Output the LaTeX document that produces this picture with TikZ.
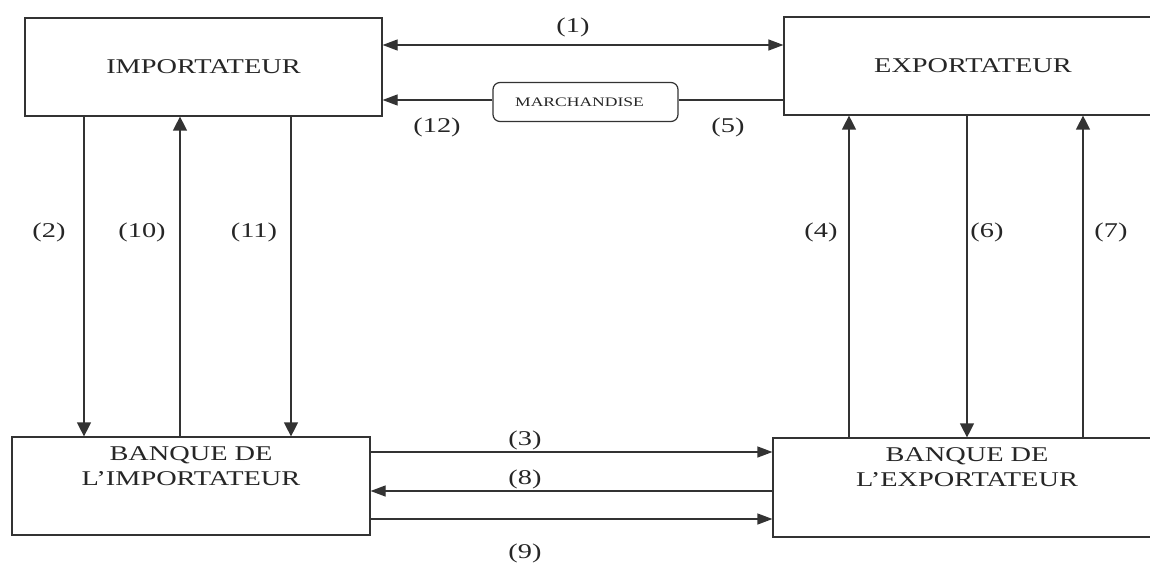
\documentclass[tikz,border=0pt]{standalone}
\usepackage{fontspec}
\setmainfont{Liberation Serif}
\usepackage{graphicx}
\usetikzlibrary{arrows.meta}
\newcommand{\sx}[1]{\scalebox{1.35}[1]{#1}}
\begin{document}
\begin{tikzpicture}[x=1pt,y=-1pt,
  box/.style={draw=black!80, line width=1.2pt, rectangle, inner sep=0pt,
              font=\fontsize{21}{25}\selectfont, text=black!85},
  lab/.style={font=\fontsize{21}{25}\selectfont, text=black!85, inner sep=0pt},
  ln/.style={draw=black!80, line width=1.2pt},
  harr/.style={ln, -{Triangle[length=15pt,width=11pt]}},
  harrb/.style={ln, {Triangle[length=15pt,width=11pt]}-{Triangle[length=15pt,width=11pt]}},
  varr/.style={ln, -{Triangle[length=14pt,width=14pt]}},
]
\useasboundingbox (0,0) rectangle (1150,564);
\clip (0,0) rectangle (1150,564);
\fill[white] (0,0) rectangle (1150,564);

% boxes
\node[box, minimum width=357pt, minimum height=98pt] (imp) at (203.5,67) {\sx{IMPORTATEUR}};
\node[box, minimum width=378pt, minimum height=98pt] (exp) at (973,66) {\sx{EXPORTATEUR}};
\node[box, minimum width=358pt, minimum height=98pt,
      label={[lab, anchor=north, inner sep=6pt]north:\sx{\begin{tabular}{@{}c@{}}BANQUE DE\\L'IMPORTATEUR\end{tabular}}}]
      (bi) at (191,486) {};
\node[box, minimum width=388pt, minimum height=99pt,
      label={[lab, anchor=north, inner sep=6pt]north:\sx{\begin{tabular}{@{}c@{}}BANQUE DE\\L'EXPORTATEUR\end{tabular}}}]
      (be) at (967,487.5) {};
\node[box, rounded corners=7pt, minimum width=185pt, minimum height=39pt,
      font=\fontsize{13}{15}\selectfont] (mar) at (585.5,102) {\hspace*{-12pt}\sx{MARCHANDISE}};

% helper coordinates
\coordinate (y1) at (0,45);
\coordinate (y3) at (0,452);
\coordinate (y8) at (0,491);
\coordinate (y9) at (0,519);
\coordinate (c2) at (84,0);
\coordinate (c10) at (180,0);
\coordinate (c11) at (291,0);
\coordinate (c4) at (849,0);
\coordinate (c6) at (967,0);
\coordinate (c7) at (1083,0);
\coordinate (ym) at (0,100);

% top connectors
\draw[harrb] (y1 -| imp.east) -- (y1 -| exp.west);
\draw[ln] (ym -| exp.west) -- (ym -| mar.east);
\draw[harr] (ym -| mar.west) -- (ym -| imp.east);

% verticals
\draw[varr] (c2 |- imp.south) -- (c2 |- bi.north);
\draw[varr] (c10 |- bi.north) -- (c10 |- imp.south);
\draw[varr] (c11 |- imp.south) -- (c11 |- bi.north);
\draw[varr] (c4 |- be.north) -- (c4 |- exp.south);
\draw[varr] (c6 |- exp.south) -- (c6 |- be.north);
\draw[varr] (c7 |- be.north) -- (c7 |- exp.south);

% bottom connectors
\draw[harr] (y3 -| bi.east) -- (y3 -| be.west);
\draw[harr] (y8 -| be.west) -- (y8 -| bi.east);
\draw[harr] (y9 -| bi.east) -- (y9 -| be.west);

% labels
\node[lab] (l1) at (573,27) {\sx{(1)}};
\node[lab] (l12) at (437,127) {\sx{(12)}};
\node[lab] (l5) at (728,127) {\sx{(5)}};
\node[lab] (l2) at (49,232) {\sx{(2)}};
\node[lab] (l10) at (142,232) {\sx{(10)}};
\node[lab] (l11) at (254,232) {\sx{(11)}};
\node[lab] (l4) at (821,232) {\sx{(4)}};
\node[lab] (l6) at (987,232) {\sx{(6)}};
\node[lab] (l7) at (1111,232) {\sx{(7)}};
\node[lab] (l3) at (525,440) {\sx{(3)}};
\node[lab] (l8) at (525,479) {\sx{(8)}};
\node[lab] (l9) at (525,553) {\sx{(9)}};
\end{tikzpicture}
\end{document}
